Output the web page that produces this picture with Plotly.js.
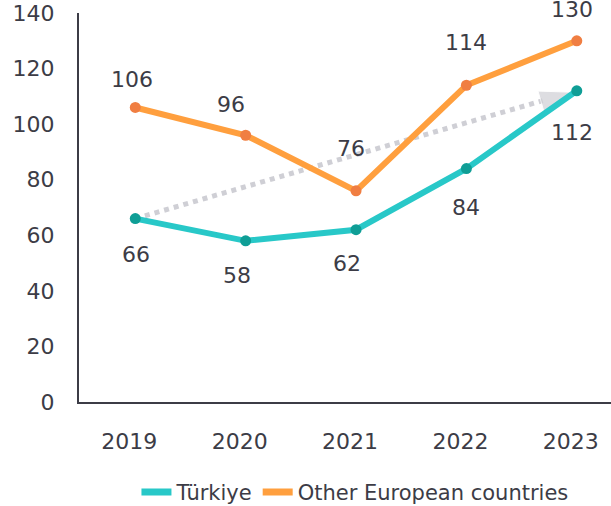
<!DOCTYPE html>
<html>
<head>
<meta charset="utf-8">
<script src="https://cdn.plot.ly/plotly-3.0.1.min.js"></script>
<style>html,body{margin:0;padding:0;background:#fff;}#chart{width:611px;height:506px;}#err{position:absolute;left:100px;top:300px;font:12px monospace;color:red;}</style>
</head>
<body>
<div id="chart"></div>
<div id="err"></div>
<script>
window.onerror = function(m){ document.getElementById("err").textContent += " ERR:" + m; };
// ---- data ----
const years = ["2019", "2020", "2021", "2022", "2023"];
const turkiye = [66, 58, 62, 84, 112];
const otherEurope = [106, 96, 76, 114, 130];
const seriesNames = ["Türkiye", "Other European countries"];

// ---- styles ----
const textColor = "#3c3c46";
const fontFam = "DejaVu Sans, sans-serif";
const tealLine = "#28c8c8", tealDot = "#0f9e96";
const orangeLine = "#ff9f3e", orangeDot = "#f07e42";
const arrowGray = "#cfcfd5";

// per-label pixel offsets (style only)
const orangeShift = [[-3,-28],[-15,-31],[-5,-42],[0,-43],[-5,-31]];
const tealShift = [[1,36],[-9,35],[-9,34],[0,39],[-5,42]];

const traces = [
  {
    x: [years[0], years[years.length-1]],
    y: [turkiye[0], turkiye[turkiye.length-1]],
    mode: "lines+markers",
    line: {color: arrowGray, width: 5, dash: "5px,5px"},
    marker: {size: [0, 34], symbol: "arrow", angleref: "previous", color: arrowGray, standoff: 5},
    showlegend: false, hoverinfo: "skip"
  },
  {
    x: years, y: otherEurope, mode: "lines+markers", name: seriesNames[1],
    line: {color: orangeLine, width: 6}, marker: {color: orangeDot, size: 11},
    showlegend: false
  },
  {
    x: years, y: turkiye, mode: "lines+markers", name: seriesNames[0],
    line: {color: tealLine, width: 6}, marker: {color: tealDot, size: 11},
    showlegend: false
  },
  { x: [null], y: [null], mode: "lines", name: seriesNames[0], line: {color: tealLine, width: 7}, showlegend: true },
  { x: [null], y: [null], mode: "lines", name: seriesNames[1], line: {color: orangeLine, width: 7}, showlegend: true }
];

const annotations = [];
years.forEach((yr, i) => {
  annotations.push({x: i, y: otherEurope[i], xref: "x", yref: "y", text: String(otherEurope[i]), showarrow: false,
    xshift: orangeShift[i][0], yshift: -orangeShift[i][1], font: {size: 22, color: textColor, family: fontFam}});
  annotations.push({x: i, y: turkiye[i], xref: "x", yref: "y", text: String(turkiye[i]), showarrow: false,
    xshift: tealShift[i][0], yshift: -tealShift[i][1], font: {size: 22, color: textColor, family: fontFam}});
});

const layout = {
  width: 611, height: 506,
  margin: {l: 79, r: 0, t: 13, b: 104, pad: 0, autoexpand: false},
  paper_bgcolor: "#ffffff", plot_bgcolor: "#ffffff",
  font: {family: fontFam, color: textColor, size: 21},
  xaxis: {
    type: "category", categoryarray: years, range: [-0.51, 4.31],
    showgrid: false, zeroline: false, showline: true, linecolor: textColor, linewidth: 2,
    ticks: "", ticklabelstandoff: 19, ticklabelshift: -6,
    tickfont: {size: 22, color: textColor, family: fontFam}, fixedrange: true
  },
  yaxis: {
    range: [0, 140], dtick: 20, showgrid: false, zeroline: false,
    showline: true, linecolor: textColor, linewidth: 2, ticks: "",
    ticklabelstandoff: 18,
    tickfont: {size: 22, color: textColor, family: fontFam}, fixedrange: true
  },
  legend: {
    orientation: "h", x: 0.108, xanchor: "left", y: -0.232, yanchor: "middle",
    font: {size: 21, color: textColor, family: fontFam}, itemwidth: 30, traceorder: "normal"
  },
  annotations: annotations,
  showlegend: true
};

Plotly.newPlot("chart", traces, layout, {displayModeBar: false, staticPlot: true})
  .catch(e => { document.getElementById("err").textContent += " P:" + e; });
</script>
</body>
</html>
